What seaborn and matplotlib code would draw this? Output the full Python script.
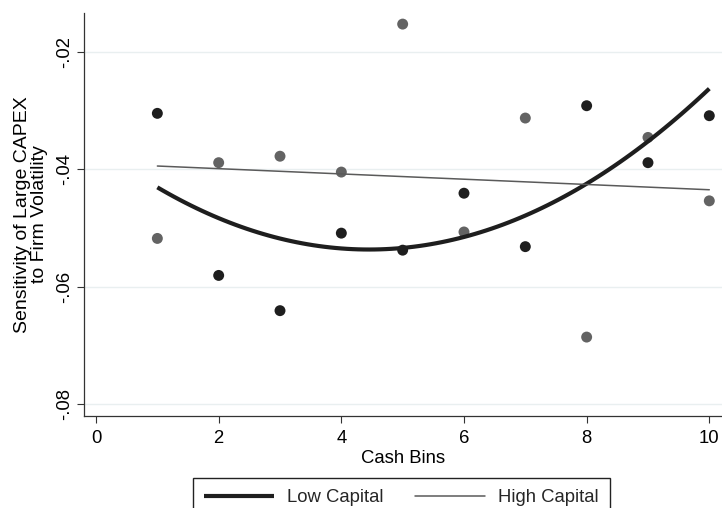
import matplotlib
matplotlib.use("Agg")
import matplotlib.pyplot as plt
import seaborn as sns
import pandas as pd

# ---- data ----
cash_bins = [1, 2, 3, 4, 5, 6, 7, 8, 9, 10]
low_capital = [-0.0305, -0.0581, -0.0641, -0.0509, -0.0538,
               -0.0441, -0.0532, -0.0292, -0.0389, -0.0309]
high_capital = [-0.0518, -0.0389, -0.0378, -0.0405, -0.0153,
                -0.0507, -0.0313, -0.0686, -0.0346, -0.0454]
x_ticks = [0, 2, 4, 6, 8, 10]
x_tick_labels = ["0", "2", "4", "6", "8", "10"]
y_ticks = [-0.02, -0.04, -0.06, -0.08]
y_tick_labels = ["-.02", "-.04", "-.06", "-.08"]
series_names = ["Low Capital", "High Capital"]

df = pd.DataFrame({"cash": cash_bins, "low": low_capital, "high": high_capital})

sns.set_theme(style="white")
plt.rcParams["font.family"] = ["Liberation Sans", "DejaVu Sans"]

BLACK = "#1e1e1e"
GRAY_PT = "#636363"
GRAY_LN = "#5a5a5a"
AXC = "#333333"

fig = plt.figure(figsize=(7.22, 5.08), dpi=100)
ax = fig.add_axes([84 / 722, 1 - 416 / 508, 638 / 722, (416 - 13) / 508])

sns.scatterplot(data=df, x="cash", y="low", color=BLACK, s=62,
                edgecolor="none", linewidth=0, ax=ax, zorder=3)
sns.scatterplot(data=df, x="cash", y="high", color=GRAY_PT, s=62,
                edgecolor="none", linewidth=0, ax=ax, zorder=3)
sns.regplot(data=df, x="cash", y="low", order=2, scatter=False, ci=None,
            truncate=True, ax=ax,
            line_kws=dict(color=BLACK, lw=3.0, zorder=4,
                          solid_capstyle="butt"))
low_line = ax.lines[-1]
sns.regplot(data=df, x="cash", y="high", order=1, scatter=False, ci=None,
            truncate=True, ax=ax,
            line_kws=dict(color=GRAY_LN, lw=1.1, zorder=5))
high_line = ax.lines[-1]

ax.set_xlim(-0.196, 10.207)
ax.set_ylim(-0.08204, -0.01341)

ax.set_xticks(x_ticks, x_tick_labels)
ax.set_yticks(y_ticks, y_tick_labels)
for lab in ax.get_yticklabels():
    lab.set_rotation(90)
    lab.set_va("center")

ax.yaxis.grid(True, color="#e9eff0", lw=1.0)
ax.xaxis.grid(False)
ax.set_axisbelow(True)

for s in ["top", "right"]:
    ax.spines[s].set_visible(False)
for s in ["left", "bottom"]:
    ax.spines[s].set_color(AXC)
    ax.spines[s].set_linewidth(0.9)

ax.tick_params(axis="both", direction="out", length=5, width=0.8,
               color=AXC, labelsize=13.3, labelcolor="black",
               bottom=True, left=True, pad=3)
ax.tick_params(axis="x", pad=5)

ax.set_xlabel("Cash Bins", fontsize=13.3, labelpad=2, color="black")
ax.set_ylabel("Sensitivity of Large CAPEX\nto Firm Volatility", fontsize=14,
              linespacing=0.95, labelpad=6, color="black")

leg = ax.legend(handles=[low_line, high_line], labels=series_names,
                loc="upper left", bbox_to_anchor=(193 / 722, 1 - 478 / 508),
                bbox_transform=fig.transFigure, ncol=2, frameon=True,
                fancybox=False, edgecolor="#222222", framealpha=1,
                fontsize=13.3, handlelength=3.8, handletextpad=0.7,
                columnspacing=1.7, borderaxespad=0, borderpad=0.6)
leg.get_frame().set_linewidth(1.0)

fig.savefig("out.png", dpi=100)
